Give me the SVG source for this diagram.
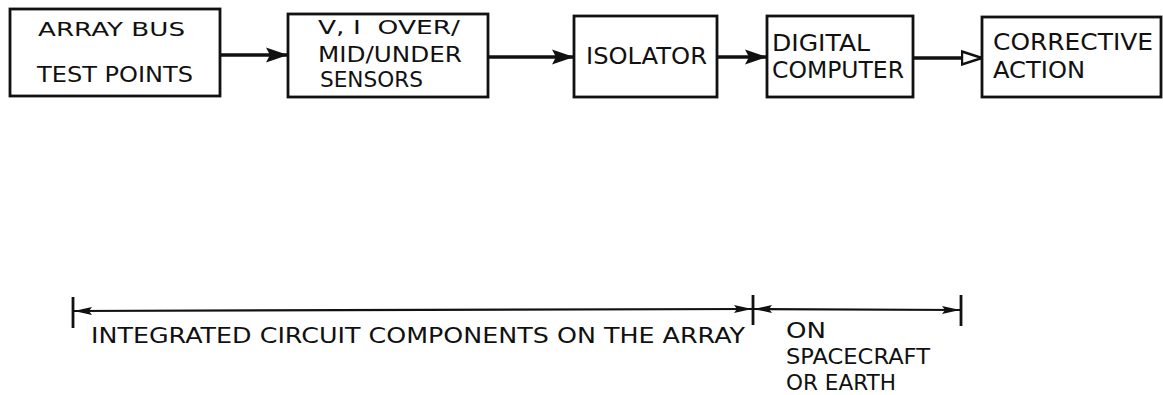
<svg xmlns="http://www.w3.org/2000/svg" width="1163" height="395" viewBox="0 0 1163 395">
<style>
.box{fill:#fff;stroke:#111;stroke-width:2.8}
.t{font-family:"DejaVu Sans","Liberation Sans",sans-serif;fill:#111}
.conn{stroke:#111;stroke-width:3.4;fill:none}
.dim{stroke:#111;stroke-width:2.2;fill:none}
.tick{stroke:#111;stroke-width:2.8}
</style>
<defs>
<marker id="ah" markerUnits="userSpaceOnUse" markerWidth="22" markerHeight="16" refX="22" refY="8" orient="auto">
<path d="M0,0.5 L22,8 L0,15.5 L4,8 z" fill="#111"/>
</marker>
<marker id="ahOpen" markerUnits="userSpaceOnUse" markerWidth="22" markerHeight="16" refX="21" refY="8" orient="auto">
<path d="M1,1.5 L21,8 L1,14.5 z" fill="#fff" stroke="#111" stroke-width="2.4"/>
</marker>
<marker id="dh" markerUnits="userSpaceOnUse" markerWidth="18" markerHeight="10" refX="18" refY="5" orient="auto-start-reverse">
<path d="M0,1 L18,5 L0,9 L3,5 z" fill="#111"/>
</marker>
</defs>
<g id="connectors">
<line class="conn" x1="221" y1="55" x2="288" y2="55" marker-end="url(#ah)"/>
<line class="conn" x1="489" y1="57" x2="574" y2="57" marker-end="url(#ah)"/>
<line class="conn" x1="718" y1="57" x2="767" y2="57" marker-end="url(#ah)"/>
<line class="conn" x1="914" y1="58" x2="982" y2="58" marker-end="url(#ahOpen)"/>
</g>
<g id="node-array-bus">
<rect class="box" x="10" y="9" width="210" height="87"/>
<text class="t" x="38" y="36" font-size="19" textLength="147" lengthAdjust="spacingAndGlyphs">ARRAY BUS</text>
<text class="t" x="37" y="82" font-size="21" textLength="156" lengthAdjust="spacingAndGlyphs">TEST POINTS</text>
</g>
<g id="node-sensors">
<rect class="box" x="288" y="14" width="200" height="83"/>
<text class="t" x="318" y="34" font-size="20" textLength="142" lengthAdjust="spacingAndGlyphs" xml:space="preserve">V, I  OVER/</text>
<text class="t" x="318" y="62" font-size="21" textLength="144" lengthAdjust="spacingAndGlyphs">MID/UNDER</text>
<text class="t" x="320" y="87" font-size="21" textLength="103" lengthAdjust="spacingAndGlyphs">SENSORS</text>
</g>
<g id="node-isolator">
<rect class="box" x="574" y="16" width="143" height="81"/>
<text class="t" x="586" y="64" font-size="23" textLength="121" lengthAdjust="spacingAndGlyphs">ISOLATOR</text>
</g>
<g id="node-computer">
<rect class="box" x="767" y="16" width="146" height="81"/>
<text class="t" x="772" y="51" font-size="23" textLength="98" lengthAdjust="spacingAndGlyphs">DIGITAL</text>
<text class="t" x="772" y="78" font-size="23" textLength="132" lengthAdjust="spacingAndGlyphs">COMPUTER</text>
</g>
<g id="node-corrective">
<rect class="box" x="982" y="17" width="179" height="80"/>
<text class="t" x="993" y="50" font-size="23" textLength="160" lengthAdjust="spacingAndGlyphs">CORRECTIVE</text>
<text class="t" x="993" y="78" font-size="23" textLength="92" lengthAdjust="spacingAndGlyphs">ACTION</text>
</g>
<g id="span-array">
<line class="tick" x1="73" y1="297" x2="73" y2="328"/>
<line class="dim" x1="74" y1="311" x2="752" y2="309" marker-start="url(#dh)" marker-end="url(#dh)"/>
<text class="t" x="91" y="343" font-size="22" textLength="654" lengthAdjust="spacingAndGlyphs">INTEGRATED CIRCUIT COMPONENTS ON THE ARRAY</text>
</g>
<g id="span-spacecraft">
<line class="tick" x1="753" y1="295" x2="753" y2="325"/>
<line class="dim" x1="754" y1="309" x2="960" y2="310" marker-start="url(#dh)" marker-end="url(#dh)"/>
<line class="tick" x1="961" y1="295" x2="961" y2="326"/>
<text class="t" x="786" y="338" font-size="22" textLength="40" lengthAdjust="spacingAndGlyphs">ON</text>
<text class="t" x="786" y="364" font-size="22" textLength="144" lengthAdjust="spacingAndGlyphs">SPACECRAFT</text>
<text class="t" x="786" y="390" font-size="22" textLength="110" lengthAdjust="spacingAndGlyphs">OR EARTH</text>
</g>
</svg>
